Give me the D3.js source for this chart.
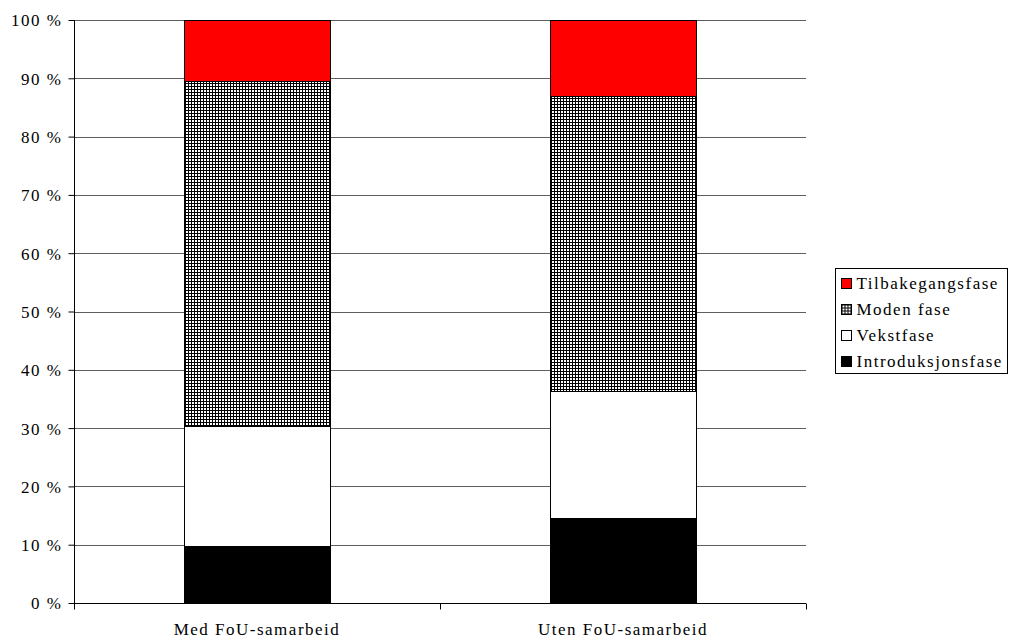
<!DOCTYPE html>
<html>
<head>
<meta charset="utf-8">
<script src="https://cdn.jsdelivr.net/npm/d3@7"></script>
<style>
  html, body { margin: 0; padding: 0; background: #fff; }
  svg text { font-family: "Liberation Serif", "DejaVu Serif", serif; font-size: 17px; fill: #000; letter-spacing: 1.5px; }
</style>
</head>
<body>
<svg id="chart" width="1009" height="639"></svg>
<script>
// Share of firms per product life-cycle phase (percent)
const categories = ["Med FoU-samarbeid", "Uten FoU-samarbeid"];
const phases = ["Introduksjonsfase", "Vekstfase", "Moden fase", "Tilbakegangsfase"];
const introduksjonsfase = [9.8, 14.5];
const vekstfase = [20.6, 21.9];
const modenFase = [59.2, 50.6];
const tilbakegangsfase = [10.4, 13.0];
const tickValues = [0, 10, 20, 30, 40, 50, 60, 70, 80, 90, 100];

const rows = categories.map((c, i) => ({
  category: c,
  "Introduksjonsfase": introduksjonsfase[i],
  "Vekstfase": vekstfase[i],
  "Moden fase": modenFase[i],
  "Tilbakegangsfase": tilbakegangsfase[i]
}));

const svg = d3.select("#chart");
const margin = { left: 74, top: 20, right: 203, bottom: 36 };
const width = 1009 - margin.left - margin.right;
const height = 639 - margin.top - margin.bottom;

// Fine cross-hatch for the mature phase
const defs = svg.append("defs");
const pat = defs.append("pattern")
  .attr("id", "hatch").attr("patternUnits", "userSpaceOnUse")
  .attr("width", 3).attr("height", 3);
pat.append("rect").attr("width", 3).attr("height", 3).attr("fill", "#fff");
pat.append("rect").attr("x", 0).attr("y", 0).attr("width", 3).attr("height", 1).attr("fill", "#000");
pat.append("rect").attr("x", 0).attr("y", 0).attr("width", 1).attr("height", 3).attr("fill", "#000");

const fills = {
  "Introduksjonsfase": "#000000",
  "Vekstfase": "#ffffff",
  "Moden fase": "url(#hatch)",
  "Tilbakegangsfase": "#ff0000"
};

const x = d3.scaleBand().domain(categories).range([0, width]).paddingInner(0.6).paddingOuter(0.3);
const y = d3.scaleLinear().domain([0, 100]).range([height, 0]);

const g = svg.append("g").attr("transform", `translate(${margin.left},${margin.top})`);

// Horizontal gridlines
g.append("g").selectAll("line").data(tickValues.filter(d => d > 0)).join("line")
  .attr("x1", 0).attr("x2", width)
  .attr("y1", d => Math.round(y(d)) + 0.5).attr("y2", d => Math.round(y(d)) + 0.5)
  .attr("stroke", "#5e5e5e").attr("stroke-width", 1);

// Stacked bars
const stack = d3.stack().keys(phases)(rows);
g.append("g").selectAll("g").data(stack).join("g")
  .attr("fill", d => fills[d.key])
  .selectAll("rect").data(d => d).join("rect")
  .attr("x", d => Math.round(x(d.data.category)) + 0.5)
  .attr("y", d => Math.round(y(d[1])) + 0.5)
  .attr("width", Math.round(x.bandwidth()))
  .attr("height", d => Math.round(y(d[0])) - Math.round(y(d[1])))
  .attr("stroke", "#000").attr("stroke-width", 1);

// Y axis
const yAxis = g.append("g").attr("transform", "translate(0.5,0)")
  .call(d3.axisLeft(y).tickValues(tickValues).tickSize(6).tickPadding(6).tickFormat(d => d + " %"));
yAxis.select(".domain").attr("stroke", "#000").attr("d", `M0,0V${height + 6}`);
yAxis.selectAll(".tick line").attr("stroke", "#000");
yAxis.selectAll("text").attr("dy", "0.35em");

// X axis baseline and category separators
const xg = g.append("g").attr("transform", `translate(0,${height + 0.5})`);
xg.append("line").attr("x1", 0).attr("x2", width).attr("stroke", "#000");
[0, width / 2, width].forEach(v => {
  xg.append("line").attr("x1", Math.round(v) + 0.5).attr("x2", Math.round(v) + 0.5)
    .attr("y1", 0).attr("y2", 6).attr("stroke", "#000");
});
xg.selectAll("text.cat").data(categories).join("text").attr("class", "cat")
  .attr("x", d => x(d) + x.bandwidth() / 2).attr("y", 31)
  .attr("text-anchor", "middle").text(d => d);

// Legend
const lg = svg.append("g").attr("transform", "translate(835.5,268.5)");
lg.append("rect").attr("width", 172).attr("height", 105).attr("fill", "#fff").attr("stroke", "#000");
const legendOrder = phases.slice().reverse();
legendOrder.forEach((k, i) => {
  const yy = 10 + i * 26;
  lg.append("rect").attr("x", 6).attr("y", yy).attr("width", 10).attr("height", 10)
    .attr("fill", fills[k]).attr("stroke", "#000");
  lg.append("text").attr("x", 21).attr("y", yy + 10).text(k);
});
</script>
</body>
</html>
